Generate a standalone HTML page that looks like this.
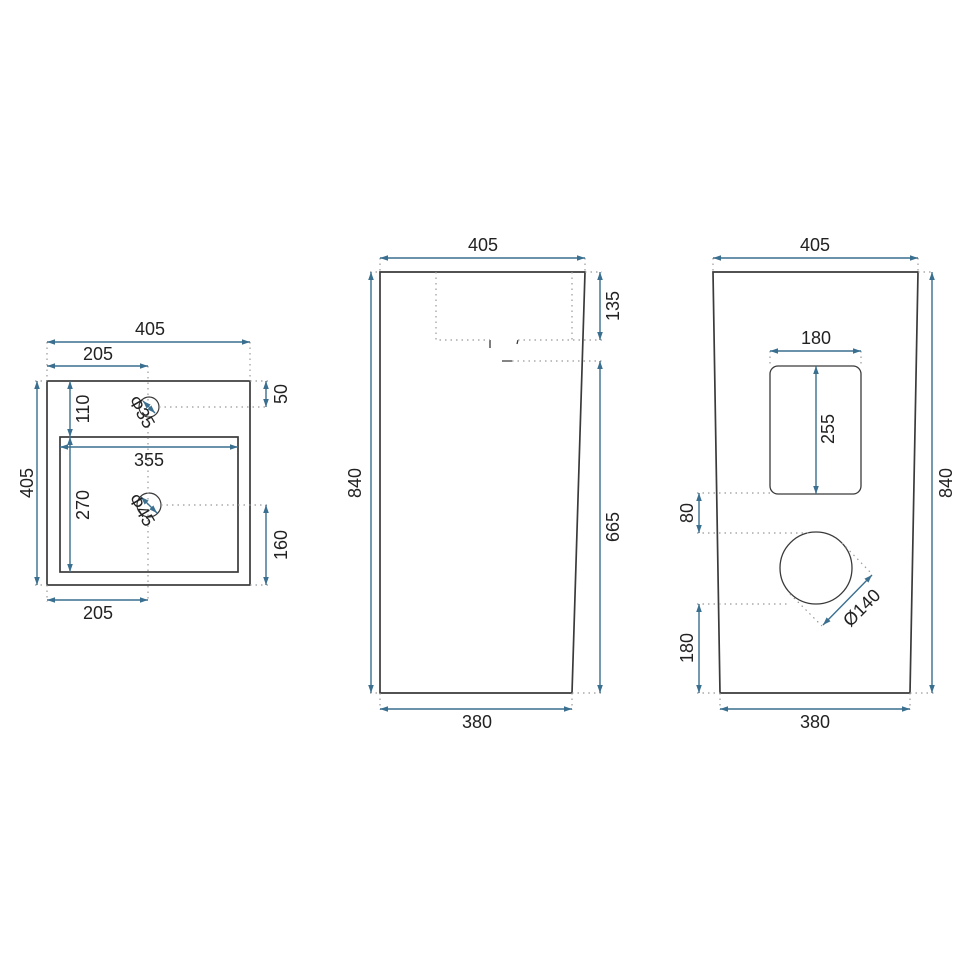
<!DOCTYPE html>
<html><head><meta charset="utf-8"><style>
html,body{margin:0;padding:0;background:#fff;}
svg{display:block;}
text{font-family:"Liberation Sans",Arial,sans-serif;font-size:18px;fill:#222;}
</style></head><body>
<svg width="970" height="970" viewBox="0 0 970 970" xmlns="http://www.w3.org/2000/svg">
<defs>
<marker id="a" viewBox="0 0 10 10" refX="10" refY="5" markerWidth="8" markerHeight="8" orient="auto-start-reverse" markerUnits="userSpaceOnUse">
<path d="M0,1.5 L10,5 L0,8.5 z" fill="#3a6f8f"/></marker>
</defs>
<g fill="none" stroke="#3a3a3a" stroke-width="1.7">
<rect x="47" y="381" width="203" height="204"/>
<rect x="60" y="437" width="178" height="135"/>
<circle cx="149" cy="407" r="10" stroke-width="1.2"/>
<circle cx="149" cy="505" r="12" stroke-width="1.2"/>
<path d="M380,272 L585,272 L572,693 L380,693 Z"/>
<path d="M490,340 V348 M518,340 L517,344 M502,361 H512" stroke-width="1.3"/>
<path d="M713,272 L918,272 L910,693 L720,693 Z"/>
<rect x="770" y="366" width="91" height="128" rx="8" stroke-width="1.3"/>
<circle cx="816" cy="568" r="36" stroke-width="1.3"/>
</g>
<g fill="none" stroke="#999" stroke-width="1.2" stroke-dasharray="1.5 4">
<path d="M47,342 V381 M250,342 V381 M148,366 V600 M250,381 H268 M159,407 H268 M161,505 H268 M250,585 H268 M35,381 H47 M35,585 H47 M47,585 V602"/>
<path d="M380,258 V272 M585,258 V272 M370,272 H380 M585,272 H602 M436,272 V340 H490 M518,340 H602 M572,272 V340 M512,361 H602 M370,693 H380 M572,693 H602 M380,693 V710 M572,693 V710"/>
<path d="M713,258 V272 M918,258 V272 M918,272 H934 M910,693 H934 M770,351 V366 M861,351 V366 M697,493 H770 M697,533 H810 M697,604 H790 M697,693 H720 M720,693 V710 M910,693 V710 M842,543 L872,574 M790,594 L822,626"/>
</g>
<g fill="none" stroke="#3a6f8f" stroke-width="1.4" marker-start="url(#a)" marker-end="url(#a)">
<line x1="47" y1="342" x2="250" y2="342"/>
<line x1="47" y1="366" x2="148" y2="366"/>
<line x1="266" y1="381" x2="266" y2="407"/>
<line x1="70" y1="381" x2="70" y2="437"/>
<line x1="60" y1="447" x2="238" y2="447"/>
<line x1="70" y1="437" x2="70" y2="572"/>
<line x1="37" y1="381" x2="37" y2="585"/>
<line x1="266" y1="505" x2="266" y2="585"/>
<line x1="47" y1="600" x2="148" y2="600"/>
<line x1="143" y1="401" x2="155" y2="413"/>
<line x1="141" y1="497" x2="157" y2="513"/>
<line x1="380" y1="258" x2="585" y2="258"/>
<line x1="371" y1="272" x2="371" y2="693"/>
<line x1="600" y1="272" x2="600" y2="340"/>
<line x1="600" y1="361" x2="600" y2="693"/>
<line x1="380" y1="709" x2="572" y2="709"/>
<line x1="713" y1="258" x2="918" y2="258"/>
<line x1="932" y1="272" x2="932" y2="693"/>
<line x1="770" y1="351" x2="861" y2="351"/>
<line x1="816" y1="366" x2="816" y2="494"/>
<line x1="699" y1="493" x2="699" y2="533"/>
<line x1="699" y1="604" x2="699" y2="693"/>
<line x1="720" y1="709" x2="910" y2="709"/>
<line x1="823" y1="625" x2="872" y2="575"/>
</g>
<g text-anchor="middle">
<text x="150" y="335">405</text>
<text x="98" y="360">205</text>
<text x="149" y="466">355</text>
<text x="98" y="619">205</text>
<text transform="translate(33,483) rotate(-90)">405</text>
<text transform="translate(89,409) rotate(-90)">110</text>
<text transform="translate(89,505) rotate(-90)">270</text>
<text transform="translate(287,394) rotate(-90)">50</text>
<text transform="translate(287,545) rotate(-90)">160</text>
<text x="483" y="251">405</text>
<text x="477" y="728">380</text>
<text transform="translate(361,483) rotate(-90)">840</text>
<text transform="translate(619,306) rotate(-90)">135</text>
<text transform="translate(619,527) rotate(-90)">665</text>
<text x="815" y="251">405</text>
<text x="816" y="344">180</text>
<text x="815" y="728">380</text>
<text transform="translate(834,429) rotate(-90)">255</text>
<text transform="translate(952,483) rotate(-90)">840</text>
<text transform="translate(693,513) rotate(-90)">80</text>
<text transform="translate(693,648) rotate(-90)">180</text>
<text transform="translate(866,612) rotate(-45)">Ø140</text>
</g>
<text transform="translate(128,400) rotate(60)">Φ35</text>
<text transform="translate(128,498) rotate(60)">Φ45</text>
</svg>
</body></html>
